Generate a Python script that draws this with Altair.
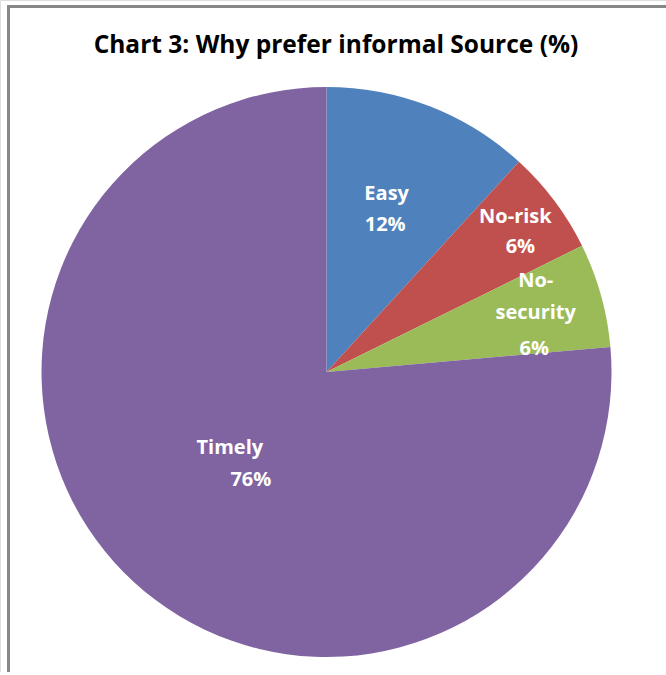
import math
import altair as alt
import pandas as pd

# ---- data ----
categories = ["Easy", "No-risk", "No-security", "Timely"]
shares = [11.8, 5.9, 5.9, 76.4]           # percent of the pie
label_lines = ["Easy", "No-risk", "No-\nsecurity", "Timely"]
colors = ["#4F81BD", "#C0504D", "#9BBB59", "#8064A2"]
title_text = "Chart 3: Why prefer informal Source (%)"

df = pd.DataFrame({
    "order": list(range(len(categories))),
    "cat": categories,
    "share": shares,
    "label": label_lines,
})

# ---- layout (pixels) ----
W, H = 666, 672
CX, CY, R = 326.5, 372, 285
FONT = "Open Sans"
BORDER = "#878787"

theta_scale = alt.Scale(domain=[0, 100], range=[0, 2 * math.pi])

base = alt.Chart(df).transform_window(
    end="sum(share)", sort=[alt.SortField("order")], frame=[None, 0]
).transform_calculate(
    start="datum.end - datum.share",
    mid="datum.end - datum.share / 2",
    pct="format(datum.share, '.0f') + '%'",
)

arcs = base.mark_arc(outerRadius=R, innerRadius=0).encode(
    theta=alt.Theta("start:Q", scale=theta_scale, stack=False),
    theta2="end:Q",
    color=alt.Color("cat:N", scale=alt.Scale(domain=categories, range=colors), legend=None),
    x=alt.value(CX),
    y=alt.value(CY),
)

# radius of label anchor, (dx, dy) of first name line, (dx, dy) of percent
label_layout = {
    "Easy": (174.3, (-3, -15.5), (-4.5, 15.5)),
    "No-risk": (233.1, (2.5, -15), (7.5, 15)),
    "No-security": (210.2, (6.8, -34), (5.3, 34)),
    "Timely": (124.8, (-12.4, -16.25), (8.6, 16.25)),
}

layers = [arcs]
for cat, (rr, (ndx, ndy), (pdx, pdy)) in label_layout.items():
    sub = base.transform_filter(alt.datum.cat == cat)
    common = dict(
        theta=alt.Theta("mid:Q", scale=theta_scale, stack=False),
        radius=alt.value(rr),
        x=alt.value(CX),
        y=alt.value(CY),
    )
    layers.append(
        sub.mark_text(
            font=FONT, fontSize=20, fontWeight="bold", color="white",
            align="center", baseline="middle", dx=ndx, dy=ndy,
            lineBreak="\n", lineHeight=31.5,
        ).encode(text="label:N", **common)
    )
    layers.append(
        sub.mark_text(
            font=FONT, fontSize=20, fontWeight="bold", color="white",
            align="center", baseline="middle", dx=pdx, dy=pdy,
        ).encode(text="pct:N", **common)
    )

title = alt.Chart(pd.DataFrame({"t": [title_text]})).mark_text(
    font=FONT, fontSize=24.5, fontWeight="bold", color="black",
    align="center", baseline="middle",
).encode(text="t:N", x=alt.value(336), y=alt.value(46))

border_top = alt.Chart(pd.DataFrame({"t": [0]})).mark_rule(
    color=BORDER, strokeWidth=3
).encode(x=alt.value(7), x2=alt.value(W), y=alt.value(6.5))

border_left = alt.Chart(pd.DataFrame({"t": [0]})).mark_rule(
    color=BORDER, strokeWidth=3
).encode(x=alt.value(8.5), y=alt.value(5), y2=alt.value(H))

chart = alt.layer(*layers, title, border_top, border_left).properties(
    width=W, height=H,
    autosize=alt.AutoSizeParams(type="none"),
    padding=0,
).configure_view(stroke=None).configure(background="white")

chart.save("out.html", embed_options={"renderer": "svg", "actions": False})
